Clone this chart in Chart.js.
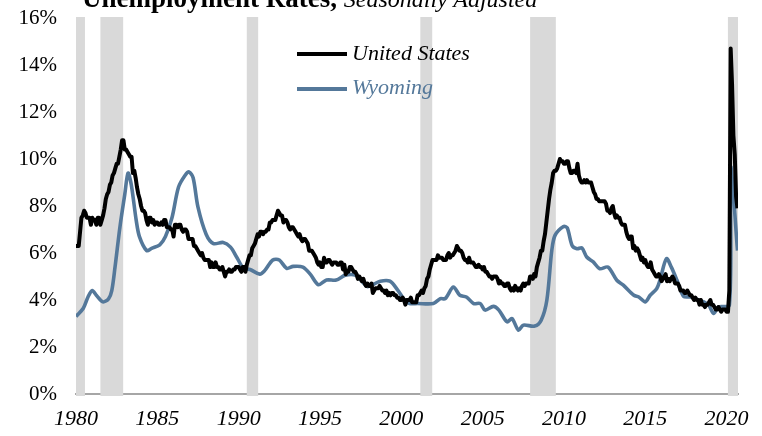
<!DOCTYPE html>
<html>
<head>
<meta charset="utf-8">
<script src="https://cdn.jsdelivr.net/npm/chart.js@4.4.0/dist/chart.umd.min.js"></script>
<style>
  body { margin: 0; background: #fff; overflow: hidden; }
  #wrap { position: relative; width: 762px; height: 436px; overflow: hidden; }
  #title { position: absolute; left: 82px; top: -15px; font-family: "Liberation Serif", serif; font-size: 27px; line-height: 27px; white-space: nowrap; color: #000; }
  #title b { font-weight: bold; }
  #title i { font-size: 24px; }
  .leg-line { position: absolute; left: 297px; width: 50px; height: 4px; }
  .leg-text { position: absolute; left: 352px; font-family: "Liberation Serif", serif; font-style: italic; font-size: 22px; line-height: 22px; white-space: nowrap; }
</style>
</head>
<body>
<div id="wrap">
  <canvas id="chart" width="762" height="436"></canvas>
  <div id="title"><b>Unemployment Rates,</b> <i>Seasonally Adjusted</i></div>
  <div class="leg-line" style="top:52px;background:#000"></div>
  <div class="leg-text" style="top:42px;color:#000">United States</div>
  <div class="leg-line" style="top:87px;background:#54789a;height:3.5px"></div>
  <div class="leg-text" style="top:76px;color:#54789a">Wyoming</div>
</div>
<script>
// US unemployment rate, monthly from Jan 1980
const usRate = [
  6.3, 6.3, 6.3, 6.9, 7.5, 7.6, 7.8, 7.7, 7.5, 7.5, 7.5, 7.2,
  7.5, 7.4, 7.4, 7.2, 7.5, 7.5, 7.2, 7.4, 7.6, 7.9, 8.3, 8.5,
  8.6, 8.9, 9.0, 9.3, 9.4, 9.6, 9.8, 9.8, 10.1, 10.4, 10.8, 10.8,
  10.4, 10.4, 10.3, 10.2, 10.1, 10.1, 9.4, 9.5, 9.2, 8.8, 8.5, 8.3,
  8.0, 7.8, 7.8, 7.7, 7.4, 7.2, 7.5, 7.5, 7.3, 7.4, 7.2, 7.3,
  7.3, 7.2, 7.2, 7.3, 7.2, 7.4, 7.4, 7.1, 7.1, 7.1, 7.0, 7.0,
  6.7, 7.2, 7.2, 7.1, 7.2, 7.2, 7.0, 6.9, 7.0, 7.0, 6.9, 6.6,
  6.6, 6.6, 6.6, 6.3, 6.3, 6.2, 6.1, 6.0, 5.9, 6.0, 5.8, 5.7,
  5.7, 5.7, 5.7, 5.4, 5.6, 5.4, 5.4, 5.6, 5.4, 5.4, 5.3, 5.3,
  5.4, 5.2, 5.0, 5.2, 5.2, 5.3, 5.2, 5.2, 5.3, 5.3, 5.4, 5.4,
  5.4, 5.3, 5.2, 5.4, 5.4, 5.2, 5.5, 5.7, 5.9, 5.9, 6.2, 6.3,
  6.4, 6.6, 6.8, 6.7, 6.9, 6.9, 6.8, 6.9, 6.9, 7.0, 7.0, 7.3,
  7.3, 7.4, 7.4, 7.4, 7.6, 7.8, 7.7, 7.6, 7.6, 7.3, 7.4, 7.4,
  7.3, 7.1, 7.0, 7.1, 7.1, 7.0, 6.9, 6.8, 6.7, 6.8, 6.6, 6.5,
  6.6, 6.6, 6.5, 6.4, 6.1, 6.1, 6.1, 6.0, 5.9, 5.8, 5.6, 5.5,
  5.6, 5.4, 5.4, 5.8, 5.6, 5.6, 5.7, 5.7, 5.6, 5.5, 5.6, 5.6,
  5.6, 5.5, 5.5, 5.6, 5.6, 5.3, 5.5, 5.1, 5.2, 5.2, 5.4, 5.4,
  5.3, 5.2, 5.2, 5.1, 4.9, 5.0, 4.9, 4.8, 4.9, 4.7, 4.6, 4.7,
  4.6, 4.6, 4.7, 4.3, 4.4, 4.5, 4.5, 4.5, 4.6, 4.5, 4.4, 4.4,
  4.3, 4.4, 4.2, 4.3, 4.2, 4.3, 4.3, 4.2, 4.2, 4.1, 4.1, 4.0,
  4.0, 4.1, 4.0, 3.8, 4.0, 4.0, 4.0, 4.1, 3.9, 3.9, 3.9, 3.9,
  4.2, 4.2, 4.3, 4.4, 4.3, 4.5, 4.6, 4.9, 5.0, 5.3, 5.5, 5.7,
  5.7, 5.7, 5.7, 5.9, 5.8, 5.8, 5.8, 5.7, 5.7, 5.7, 5.9, 6.0,
  5.8, 5.9, 5.9, 6.0, 6.1, 6.3, 6.2, 6.1, 6.1, 6.0, 5.8, 5.7,
  5.7, 5.6, 5.8, 5.6, 5.6, 5.6, 5.5, 5.4, 5.4, 5.5, 5.4, 5.4,
  5.3, 5.4, 5.2, 5.2, 5.1, 5.0, 5.0, 4.9, 5.0, 5.0, 5.0, 4.9,
  4.7, 4.8, 4.7, 4.7, 4.6, 4.6, 4.7, 4.7, 4.5, 4.4, 4.5, 4.4,
  4.6, 4.5, 4.4, 4.5, 4.4, 4.6, 4.7, 4.6, 4.7, 4.7, 4.7, 5.0,
  5.0, 4.9, 5.1, 5.0, 5.4, 5.6, 5.8, 6.1, 6.1, 6.5, 6.8, 7.3,
  7.8, 8.3, 8.7, 9.0, 9.4, 9.5, 9.5, 9.6, 9.8, 10.0, 9.9, 9.9,
  9.8, 9.8, 9.9, 9.9, 9.6, 9.4, 9.4, 9.5, 9.5, 9.4, 9.8, 9.3,
  9.1, 9.0, 9.0, 9.1, 9.0, 9.1, 9.0, 9.0, 9.0, 8.8, 8.6, 8.5,
  8.3, 8.3, 8.2, 8.2, 8.2, 8.2, 8.2, 8.1, 7.8, 7.8, 7.7, 7.9,
  8.0, 7.7, 7.5, 7.6, 7.5, 7.5, 7.3, 7.2, 7.2, 7.2, 6.9, 6.7,
  6.6, 6.7, 6.7, 6.2, 6.3, 6.1, 6.2, 6.1, 5.9, 5.7, 5.8, 5.6,
  5.7, 5.5, 5.4, 5.4, 5.6, 5.3, 5.2, 5.1, 5.0, 5.0, 5.1, 5.0,
  4.8, 4.9, 5.0, 5.1, 4.8, 4.9, 4.8, 4.9, 5.0, 4.9, 4.7, 4.7,
  4.7, 4.6, 4.4, 4.4, 4.4, 4.3, 4.3, 4.4, 4.3, 4.2, 4.2, 4.1,
  4.0, 4.1, 4.0, 4.0, 3.8, 4.0, 3.8, 3.8, 3.7, 3.8, 3.8, 3.9,
  4.0, 3.8, 3.8, 3.7, 3.6, 3.6, 3.7, 3.6, 3.5, 3.6, 3.6, 3.6,
  3.5, 3.5, 4.4, 14.7, 13.2, 11.0, 10.2, 8.4, 7.9
];

// Wyoming (year, rate)
const wyYear = [
  1980.0, 1980.45, 1980.75, 1981.0, 1981.25, 1981.65, 1982.0, 1982.2, 1982.4, 1982.7,
  1983.0, 1983.2, 1983.4, 1983.7, 1983.9, 1984.35, 1984.65, 1985.15, 1985.5, 1985.9,
  1986.3, 1986.7, 1986.95, 1987.2, 1987.5, 1988.0, 1988.45, 1989.05, 1989.5, 1989.9,
  1990.3, 1990.7, 1991.3, 1991.6, 1992.1, 1992.5, 1992.95, 1993.35, 1993.95, 1994.4,
  1994.9, 1995.4, 1996.0, 1996.55, 1997.2, 1997.6, 1997.9, 1998.3, 1998.7, 1999.3,
  1999.8, 2000.2, 2000.5, 2001.0, 2001.97, 2002.4, 2002.7, 2003.2, 2003.6, 2004.0,
  2004.45, 2004.85, 2005.15, 2005.66, 2006.0, 2006.5, 2006.8, 2007.2, 2007.5, 2008.2,
  2008.6, 2008.95, 2009.25, 2009.45, 2009.97, 2010.2, 2010.5, 2010.8, 2011.1, 2011.4,
  2011.8, 2012.2, 2012.7, 2013.25, 2013.65, 2014.3, 2014.6, 2015.0, 2015.3, 2015.7,
  2015.9, 2016.3, 2016.6, 2016.95, 2017.35, 2017.8, 2018.2, 2018.6, 2018.9, 2019.2,
  2019.5, 2020.17, 2020.25, 2020.67
];
const wyRate = [
  3.3, 3.65, 4.15, 4.4, 4.2, 3.92, 4.05, 4.4, 5.4, 7.1,
  8.5, 9.4, 8.9, 7.4, 6.7, 6.1, 6.2, 6.35, 6.7, 7.5,
  8.8, 9.3, 9.45, 9.2, 7.95, 6.8, 6.4, 6.45, 6.25, 5.8,
  5.35, 5.3, 5.1, 5.25, 5.7, 5.7, 5.35, 5.43, 5.4, 5.1,
  4.65, 4.85, 4.85, 5.05, 5.05, 4.78, 4.57, 4.67, 4.8, 4.8,
  4.4, 4.0, 3.85, 3.85, 3.85, 4.06, 4.06, 4.55, 4.2, 4.13,
  3.85, 3.85, 3.57, 3.73, 3.57, 3.07, 3.21, 2.72, 2.93, 2.89,
  3.14, 4.0, 6.1, 6.75, 7.13, 7.07, 6.32, 6.18, 6.22, 5.83,
  5.62, 5.33, 5.4, 4.84, 4.63, 4.2, 4.13, 3.92, 4.2, 4.48,
  4.84, 5.76, 5.4, 4.84, 4.16, 4.13, 4.02, 3.92, 3.78, 3.43,
  3.71, 3.78, 9.65, 6.1
];

// recessions (start, end) in years
const recessions = [
  [1980.0, 1980.55], [1981.5, 1982.9], [1990.5, 1991.2],
  [2001.17, 2001.9], [2007.92, 2009.5], [2020.08, 2020.7]
];

const xTicks = [1980, 1985, 1990, 1995, 2000, 2005, 2010, 2015, 2020];
const yTicks = [0, 2, 4, 6, 8, 10, 12, 14, 16];

const usPoints = usRate.map((v, i) => ({ x: 1980 + i / 12, y: v }));
const wyPoints = wyYear.map((yr, i) => ({ x: yr, y: wyRate[i] }));

const recessionShade = {
  id: 'recessionShade',
  beforeDatasetsDraw(chart) {
    const { ctx, chartArea, scales } = chart;
    ctx.save();
    ctx.fillStyle = '#d9d9d9';
    recessions.forEach(([a, b]) => {
      const x1 = scales.x.getPixelForValue(a);
      const x2 = scales.x.getPixelForValue(b);
      ctx.fillRect(x1, chartArea.top - 1, x2 - x1, chartArea.bottom - chartArea.top + 3);
    });
    ctx.restore();
  }
};

new Chart(document.getElementById('chart'), {
  type: 'line',
  data: {
    datasets: [
      {
        label: 'United States',
        data: usPoints,
        borderColor: '#000000',
        borderWidth: 4,
        pointRadius: 0,
        tension: 0,
        borderJoinStyle: 'round'
      },
      {
        label: 'Wyoming',
        data: wyPoints,
        borderColor: '#54789a',
        borderWidth: 3.6,
        pointRadius: 0,
        tension: 0.3,
        borderJoinStyle: 'round'
      }
    ]
  },
  options: {
    responsive: false,
    animation: false,
    layout: { padding: { top: 18, right: 24, left: 0, bottom: 0 } },
    plugins: {
      legend: { display: false },
      tooltip: { enabled: false }
    },
    scales: {
      x: {
        type: 'linear',
        min: 1980,
        max: 2020.7,
        afterBuildTicks: (s) => { s.ticks = xTicks.map(v => ({ value: v })); },
        afterFit: (s) => { s.height = 42; },
        grid: { display: false, drawTicks: false },
        border: { display: true, color: '#a6a6a6', width: 2 },
        ticks: {
          padding: 12,
          maxRotation: 0,
          autoSkip: false,
          color: '#000',
          font: { family: 'Liberation Serif', size: 22, style: 'italic' },
          callback: (v) => String(v)
        }
      },
      y: {
        min: 0,
        max: 16,
        afterBuildTicks: (s) => { s.ticks = yTicks.map(v => ({ value: v })); },
        afterFit: (s) => { s.width = 76; },
        // gap between labels and plot comes from tickLength so it does not pad the top
        grid: { display: false, drawTicks: true, tickLength: 19 },
        border: { display: false },
        ticks: {
          padding: 0,
          color: '#000',
          font: { family: 'Liberation Serif', size: 21 },
          callback: (v) => v + '%'
        }
      }
    }
  },
  plugins: [recessionShade]
});
</script>
</body>
</html>
